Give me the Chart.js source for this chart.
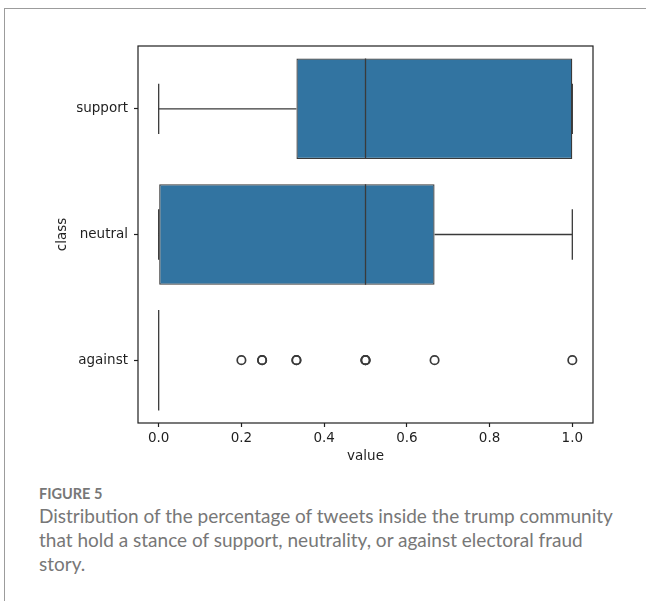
<!DOCTYPE html>
<html>
<head>
<meta charset="utf-8">
<script src="https://cdn.jsdelivr.net/npm/chart.js@4/dist/chart.umd.min.js"></script>
<style>
  body { margin: 0; background: #fff; }
  #wrap { position: relative; width: 646px; height: 601px; overflow: hidden; }
  #frame { position: absolute; left: 4px; top: 8px; width: 660px; height: 620px;
           border-top: 1px solid #9c9c9c; border-left: 1px solid #9c9c9c; }
  #chart { position: absolute; left: 0; top: 0; }
  .fig { position: absolute; left: 39px; font-family: Lato, "Open Sans", sans-serif; color: #777; }
  #figno { top: 484px; font-size: 14.5px; font-weight: 700; line-height: 20px; }
  #caption { top: 504px; font-size: 19px; line-height: 24px; width: 610px; white-space: nowrap; }
</style>
</head>
<body>
<div id="wrap">
  <div id="frame"></div>
  <canvas id="chart" width="646" height="480"></canvas>
  <div class="fig" id="figno">FIGURE 5</div>
  <div class="fig" id="caption">Distribution of the percentage of tweets inside the trump community<br>that hold a stance of support, neutrality, or against electoral fraud<br>story.</div>
</div>
<script>
	// categories and box statistics
	var classes = ["support", "neutral", "against"];
	var q1 = [0.333, 0, 0];
	var q3 = [1.0, 0.667, 0];
	var medians = [0.5, 0.5, 0];
	var whiskLo = [0, 0, 0];
	var whiskHi = [1.0, 1.0, 0];
	// outliers of the "against" class (repeats where the rings look heavier)
	var againstOutliers = [0.2, 0.25, 0.25, 0.333, 0.333, 0.5, 0.5, 0.5, 0.667, 1.0];
	var xTicks = [0, 0.2, 0.4, 0.6, 0.8, 1.0];

	var boxColor = "#3274a1";
	var lineColor = "#3a3a3a";
	var axisColor = "#1f1f1f";
	var tickFont = { family: "DejaVu Sans", size: 13.5 };

	var boxes = [];
	for (var i = 0; i < classes.length; i++){
		boxes.push([q1[i], q3[i]]);
	}
	var fliers = againstOutliers.map(function(v){ return { x: v, y: "against" }; });

	// whiskers, caps, medians and the axes frame
	var boxParts = {
		id: "boxParts",
		afterDatasetsDraw: function(chart){
			var ctx = chart.ctx;
			var xs = chart.scales.x, ys = chart.scales.y;
			var meta = chart.getDatasetMeta(0);
			ctx.save();
			ctx.strokeStyle = lineColor;
			ctx.lineWidth = 1.3;
			for (var i = 0; i < classes.length; i++){
				var yc = ys.getPixelForValue(i);
				var half = meta.data[i].height / 2;
				var cap = half / 2;
				var pLo = xs.getPixelForValue(whiskLo[i]);
				var pHi = xs.getPixelForValue(whiskHi[i]);
				var pQ1 = xs.getPixelForValue(q1[i]);
				var pQ3 = xs.getPixelForValue(q3[i]);
				var pMed = xs.getPixelForValue(medians[i]);
				ctx.beginPath();
				// whiskers
				ctx.moveTo(pQ1, yc); ctx.lineTo(pLo, yc);
				ctx.moveTo(pQ3, yc); ctx.lineTo(pHi, yc);
				// caps
				ctx.moveTo(pLo, yc - cap); ctx.lineTo(pLo, yc + cap);
				ctx.moveTo(pHi, yc - cap); ctx.lineTo(pHi, yc + cap);
				// median
				ctx.moveTo(pMed, yc - half); ctx.lineTo(pMed, yc + half);
				ctx.stroke();
			}
			ctx.restore();
		},
		afterDraw: function(chart){
			var a = chart.chartArea, ctx = chart.ctx;
			ctx.save();
			ctx.strokeStyle = axisColor;
			ctx.lineWidth = 1.2;
			ctx.strokeRect(a.left, a.top, a.right - a.left, a.bottom - a.top);
			ctx.restore();
		}
	};

	new Chart(document.getElementById("chart"), {
		type: "bar",
		data: {
			labels: classes,
			datasets: [{
				type: "bar",
				data: boxes,
				backgroundColor: boxColor,
				borderColor: lineColor,
				borderWidth: 1.3,
				borderSkipped: false,
				barPercentage: 0.8,
				categoryPercentage: 1.0
			}, {
				type: "scatter",
				data: fliers,
				showLine: false,
				pointRadius: 4.2,
				pointBorderWidth: 1.7,
				pointBorderColor: lineColor,
				pointBackgroundColor: "rgba(0,0,0,0)"
			}]
		},
		options: {
			indexAxis: "y",
			responsive: false,
			devicePixelRatio: 1,
			animation: false,
			layout: { padding: { left: 50, top: 46, right: 53, bottom: 11 } },
			plugins: { legend: { display: false }, tooltip: { enabled: false } },
			scales: {
				x: {
					type: "linear",
					min: -0.05,
					max: 1.05,
					afterFit: function(scale){ scale.height = 46; },
					afterBuildTicks: function(scale){
						scale.ticks = xTicks.map(function(v){ return { value: v }; });
					},
					grid: { drawOnChartArea: false, drawTicks: true, tickLength: 4, tickWidth: 1.2, tickColor: axisColor },
					border: { display: false },
					ticks: {
						color: axisColor, font: tickFont, padding: 3, maxRotation: 0,
						callback: function(v){ return Number(v).toFixed(1); }
					},
					title: { display: true, text: "value", color: axisColor, font: tickFont, padding: { top: 4, bottom: 4 } }
				},
				y: {
					type: "category",
					afterFit: function(scale){ scale.width = 88; },
					grid: { drawOnChartArea: false, drawTicks: true, tickLength: 4, tickWidth: 1.2, tickColor: axisColor, offset: false },
					border: { display: false },
					ticks: { color: axisColor, font: tickFont, padding: 6 },
					title: { display: true, text: "class", color: axisColor, font: tickFont, padding: { top: 4, bottom: 4 } }
				}
			}
		},
		plugins: [boxParts]
	});
</script>
</body>
</html>
